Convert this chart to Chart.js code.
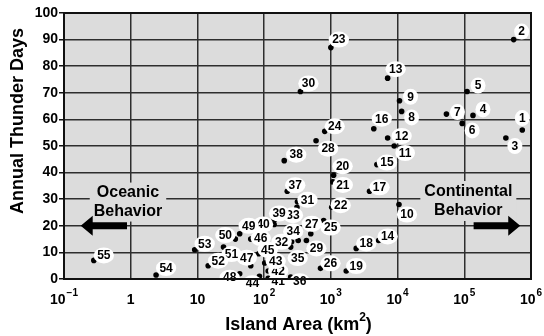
<!DOCTYPE html>
<html>
<head>
<meta charset="utf-8">
<script src="https://cdn.jsdelivr.net/npm/chart.js@4"></script>
<style>
  html, body { margin: 0; padding: 0; background: #fff; }
</style>
</head>
<body>
<canvas id="graph" width="544" height="336"></canvas>
<script>
var ctx = document.getElementById('graph');

// island number, area (km2), annual thunder days
var ids = [1, 2, 3, 4, 5, 6, 7, 8, 9, 10,
  11, 12, 13, 14, 15, 16, 17, 18, 19, 20,
  21, 22, 23, 24, 25, 26, 27, 28, 29, 30,
  31, 32, 33, 34, 35, 36, 37, 38, 39, 40,
  41, 42, 43, 44, 45, 46, 47, 48, 49, 50,
  51, 52, 53, 54, 55];
var area = [7.4e5, 5.5e5, 4.2e5, 1.35e5, 1.1e5, 9.3e4, 5.4e4, 1.15e4, 1.07e4, 1.05e4,
  8900, 7100, 7100, 5200, 4900, 4400, 3800, 2400, 1700, 1100,
  1070, 1030, 1000, 810, 780, 700, 500, 600, 430, 350,
  316, 258, 310, 324, 250, 250, 222, 200, 141, 141,
  115, 115, 102, 85, 83, 63, 63, 43, 43, 37,
  24.6, 14.5, 9.1, 2.4, 0.28];
var thunderDays = [56, 90, 53, 61.5, 70.5, 58.5, 62, 63, 67, 28,
  50, 53, 75.5, 14.5, 43, 56.5, 33, 11.5, 3, 39,
  36.5, 27, 87, 55.5, 22, 4, 17, 52, 14.5, 70.5,
  29, 14, 27, 14.5, 12, 0.7, 33, 44.5, 22, 20.5,
  0.3, 3, 6, 1, 9.5, 15, 5, 2, 17, 15,
  12, 5, 11, 1.5, 7];

var xTicks = [0.1, 1, 10, 100, 1e3, 1e4, 1e5, 1e6];
var xTickBase = ['10', '1', '10', '10', '10', '10', '10', '10'];
var xTickExp = ['\u22121', '', '', '2', '3', '4', '5', '6'];

// where each number sits next to its dot (px)
var labelOffset = [[0,-12],[8,-8],[9,8],[10,-6],[11,-6],[10,7],[11,-2],[10,6],[11,-4],[8,10],
  [11,7],[14,-2],[8,-9],[9,-4],[10,-2],[8,-10],[10,-4],[10,-5],[10,-5],[9,-9],
  [10,3],[9,-2],[8,-8],[10,-5],[7,7],[10,-5],[1,-10],[12,8],[10,8],[8,-8],
  [10,-2],[-10,0],[-4,8],[-5,-9],[7,11],[9,4],[8,-6],[12,-6],[5,-7],[-11,0],
  [10,3],[10,0],[11,-2],[-7,7],[9,-4],[10,-1],[-4,-8],[-10,4],[9,-8],[-10,-4],
  [8,7],[10,-5],[10,-6],[10,-7],[10,-5]];

var FONT = '"Liberation Sans", Arial, Helvetica, sans-serif';
var PLOT_BG = '#dcdcdc';

function arrow(c, x0, x1, y) {
  var dir = x1 > x0 ? 1 : -1;
  var head = 12, hw = 10, bw = 3.5;
  c.beginPath();
  c.moveTo(x0, y - bw);
  c.lineTo(x1 - dir * head, y - bw);
  c.lineTo(x1 - dir * head, y - hw);
  c.lineTo(x1, y);
  c.lineTo(x1 - dir * head, y + hw);
  c.lineTo(x1 - dir * head, y + bw);
  c.lineTo(x0, y + bw);
  c.closePath();
  c.fill();
}

function boxedText(c, lines, x, y0, lh) {
  c.font = 'bold 16px ' + FONT;
  var w = 0;
  lines.forEach(function (t) { w = Math.max(w, c.measureText(t).width); });
  c.fillStyle = PLOT_BG;
  c.fillRect(x - w / 2 - 4, y0 - lh / 2 - 1, w + 8, lh * lines.length + 2);
  c.fillStyle = '#000';
  c.textAlign = 'center';
  c.textBaseline = 'middle';
  lines.forEach(function (t, i) { c.fillText(t, x, y0 + i * lh); });
}

var decor = {
  id: 'decor',
  beforeDraw: function (chart) {
    var a = chart.chartArea, c = chart.ctx;
    c.save();
    c.fillStyle = PLOT_BG;
    c.fillRect(a.left, a.top, a.right - a.left, a.bottom - a.top);
    c.restore();
  },
  afterDatasetsDraw: function (chart) {
    var c = chart.ctx, xs = chart.scales.x, ys = chart.scales.y;
    c.save();
    // side notes and arrows
    boxedText(c, ['Oceanic', 'Behavior'], xs.getPixelForValue(0.91), ys.getPixelForValue(32.4), 18.5);
    boxedText(c, ['Continental', 'Behavior'], xs.getPixelForValue(1.15e5), ys.getPixelForValue(32.9), 19);
    c.fillStyle = '#000';
    var ay = ys.getPixelForValue(20);
    arrow(c, xs.getPixelForValue(0.88), xs.getPixelForValue(0.178), ay);
    arrow(c, xs.getPixelForValue(1.38e5), xs.getPixelForValue(6.9e5), ay);

    // island numbers
    var pts = chart.getDatasetMeta(0).data;
    c.font = 'bold 12px ' + FONT;
    c.textAlign = 'center';
    c.textBaseline = 'middle';
    pts.forEach(function (p, i) {
      var t = String(ids[i]);
      var lx = p.x + labelOffset[i][0], ly = p.y + labelOffset[i][1];
      var w = c.measureText(t).width;
      c.fillStyle = '#fff';
      c.beginPath();
      c.ellipse(lx, ly, Math.max(w / 2 + 3.5, 7.5), 8, 0, 0, Math.PI * 2);
      c.fill();
      c.fillStyle = '#000';
      c.fillText(t, lx, ly + 0.5);
    });
    c.restore();
  },
  afterDraw: function (chart) {
    var a = chart.chartArea, c = chart.ctx, xs = chart.scales.x;
    c.save();
    c.strokeStyle = '#111';
    c.lineWidth = 2;
    c.strokeRect(a.left, a.top, a.right - a.left, a.bottom - a.top);

    // x tick labels with superscripts
    c.fillStyle = '#000';
    c.textBaseline = 'alphabetic';
    c.textAlign = 'left';
    xTicks.forEach(function (v, i) {
      c.font = 'bold 14px ' + FONT;
      var bw = c.measureText(xTickBase[i]).width;
      c.font = 'bold 10px ' + FONT;
      var ew = xTickExp[i] ? c.measureText(xTickExp[i]).width + 1 : 0;
      var x0 = xs.getPixelForValue(v) - (bw + ew) / 2;
      c.font = 'bold 14px ' + FONT;
      c.fillText(xTickBase[i], x0, 304);
      if (xTickExp[i]) {
        c.font = 'bold 10px ' + FONT;
        c.fillText(xTickExp[i], x0 + bw + 1, 296);
      }
    });

    // axis titles
    c.font = 'bold 18px ' + FONT;
    var t1 = 'Island Area (km', t2 = ')';
    var w1 = c.measureText(t1).width, w2 = c.measureText(t2).width;
    c.font = 'bold 12px ' + FONT;
    var ws = c.measureText('2').width;
    var tx = (a.left + a.right) / 2 - (w1 + ws + w2) / 2 + 1;
    c.font = 'bold 18px ' + FONT;
    c.fillText(t1, tx, 330);
    c.font = 'bold 12px ' + FONT;
    c.fillText('2', tx + w1, 321);
    c.font = 'bold 18px ' + FONT;
    c.fillText(t2, tx + w1 + ws, 330);

    c.translate(18, 121);
    c.rotate(-Math.PI / 2);
    c.textAlign = 'center';
    c.textBaseline = 'middle';
    c.font = 'bold 18px ' + FONT;
    c.fillText('Annual Thunder Days', 0, 0);
    c.restore();
  }
};

var config = {
  type: 'scatter',
  data: {
    datasets: [{
      label: 'Islands',
      data: area.map(function (v, i) { return { x: v, y: thunderDays[i] }; }),
      backgroundColor: '#000',
      borderWidth: 0,
      pointRadius: 2.8
    }]
  },
  options: {
    responsive: false,
    animation: false,
    layout: { padding: { left: 0, right: 13, top: 13, bottom: 0 } },
    plugins: { legend: { display: false }, tooltip: { enabled: false } },
    scales: {
      x: {
        type: 'logarithmic',
        min: 0.1,
        max: 1e6,
        afterBuildTicks: function (s) { s.ticks = xTicks.map(function (v) { return { value: v }; }); },
        afterFit: function (s) { s.height = 57; },
        ticks: { display: false },
        grid: { color: '#2e2e2e', lineWidth: 1.5, drawTicks: false },
        border: { display: false }
      },
      y: {
        min: 0,
        max: 100,
        afterFit: function (s) { s.width = 64; },
        ticks: { stepSize: 10, color: '#000', padding: 1, font: { family: FONT, size: 14, weight: 'bold' } },
        grid: { color: '#2e2e2e', lineWidth: 1.5, tickLength: 5, tickColor: '#111' },
        border: { display: false }
      }
    }
  },
  plugins: [decor]
};

var thunderChart = new Chart(ctx, config);
</script>
</body>
</html>
